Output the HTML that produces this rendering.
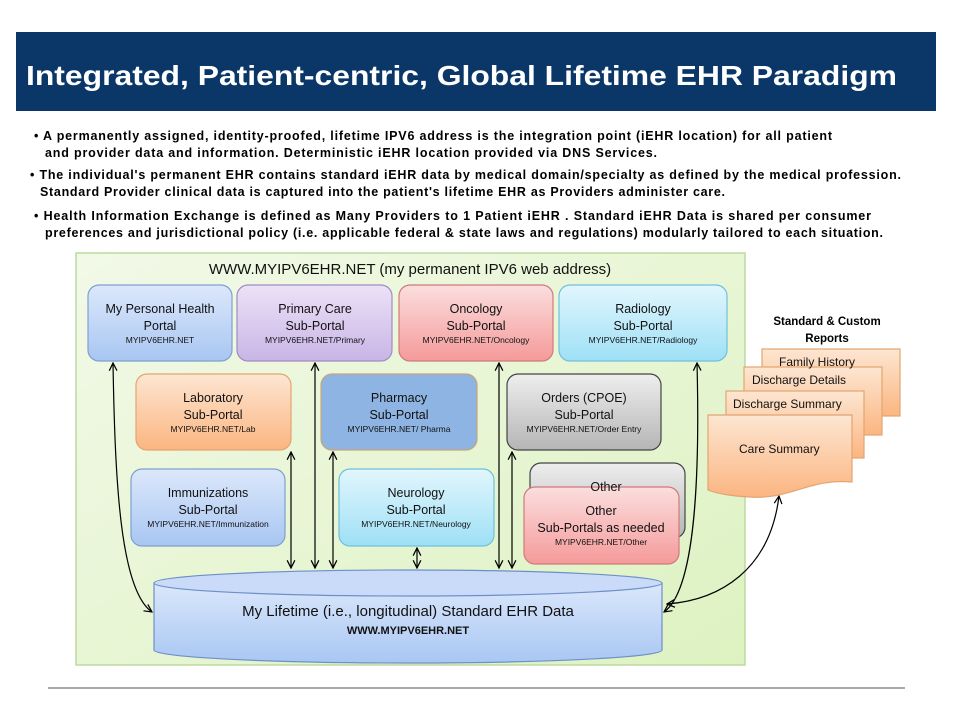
<!DOCTYPE html>
<html><head><meta charset="utf-8"><style>
body{margin:0;background:#fff;width:960px;height:720px;overflow:hidden}
text{font-family:"Liberation Sans","DejaVu Sans",sans-serif}
</style></head><body>
<svg width="960" height="720" viewBox="0 0 960 720" xmlns="http://www.w3.org/2000/svg">
<defs>
<linearGradient id="gb" x1="0" y1="0" x2="0" y2="1"><stop offset="0" stop-color="#dce8fb"/><stop offset="1" stop-color="#a8c6f2"/></linearGradient>
<linearGradient id="gp" x1="0" y1="0" x2="0" y2="1"><stop offset="0" stop-color="#ece2f7"/><stop offset="1" stop-color="#c9b5e6"/></linearGradient>
<linearGradient id="gr" x1="0" y1="0" x2="0" y2="1"><stop offset="0" stop-color="#fbdede"/><stop offset="1" stop-color="#f59a9a"/></linearGradient>
<linearGradient id="gc" x1="0" y1="0" x2="0" y2="1"><stop offset="0" stop-color="#e2f6fd"/><stop offset="1" stop-color="#9ee0f6"/></linearGradient>
<linearGradient id="go" x1="0" y1="0" x2="0" y2="1"><stop offset="0" stop-color="#fde6d2"/><stop offset="1" stop-color="#fbb580"/></linearGradient>
<linearGradient id="gg" x1="0" y1="0" x2="0" y2="1"><stop offset="0" stop-color="#eeeeee"/><stop offset="1" stop-color="#b5b5b5"/></linearGradient>
<linearGradient id="gy" x1="0" y1="0" x2="0" y2="1"><stop offset="0" stop-color="#dbe7fb"/><stop offset="1" stop-color="#a9c7f3"/></linearGradient>
<linearGradient id="gbg" x1="0" y1="0" x2="1" y2="1"><stop offset="0" stop-color="#f2f9e8"/><stop offset="1" stop-color="#ddf2c1"/></linearGradient>
<marker id="a" viewBox="0 0 10 10" refX="9" refY="5" markerWidth="8" markerHeight="8" orient="auto-start-reverse"><path d="M1,1 L9,5 L1,9" fill="none" stroke="#000" stroke-width="1.3"/></marker>
</defs>
<rect x="16" y="32" width="920" height="79" fill="#0a3768"/>
<text x="26" y="85" fill="#fff" font-size="28" font-weight="bold" textLength="871" lengthAdjust="spacingAndGlyphs">Integrated, Patient-centric, Global Lifetime EHR Paradigm</text>
<g font-size="12.5" font-weight="bold" fill="#000">
<text x="34" y="140" textLength="798" lengthAdjust="spacing">•  A permanently assigned,  identity-proofed, lifetime IPV6 address is the integration point (iEHR location)  for all patient</text>
<text x="45" y="157" textLength="612" lengthAdjust="spacing">and provider data and information.   Deterministic iEHR location provided via DNS Services.</text>
<text x="30" y="179" textLength="871" lengthAdjust="spacing">• The individual's permanent EHR contains standard iEHR data by medical domain/specialty as defined by the medical profession.</text>
<text x="40" y="196" textLength="685" lengthAdjust="spacing">Standard Provider clinical data is captured into the patient's lifetime EHR as Providers administer care.</text>
<text x="34" y="220" textLength="837" lengthAdjust="spacing">•  Health Information Exchange  is defined as Many Providers to 1 Patient iEHR .    Standard iEHR Data is  shared per consumer</text>
<text x="45" y="237" textLength="838" lengthAdjust="spacing">preferences and jurisdictional policy (i.e. applicable federal &amp; state laws and regulations) modularly tailored to each situation.</text>
</g>
<rect x="76" y="253" width="669" height="412" fill="url(#gbg)" stroke="#bcd9a0" stroke-width="1.5"/>
<text x="410" y="274" font-size="15" text-anchor="middle" fill="#111">WWW.MYIPV6EHR.NET (my permanent IPV6 web address)</text>
<g stroke-width="1.2">
<rect x="88" y="285" width="144" height="76" rx="11" fill="url(#gb)" stroke="#7f9fd0"/>
<rect x="237" y="285" width="155" height="76" rx="11" fill="url(#gp)" stroke="#9f8cc4"/>
<rect x="399" y="285" width="154" height="76" rx="11" fill="url(#gr)" stroke="#d07a7a"/>
<rect x="559" y="285" width="168" height="76" rx="11" fill="url(#gc)" stroke="#6fc0dc"/>
<rect x="136" y="374" width="155" height="76" rx="11" fill="url(#go)" stroke="#e3a570"/>
<rect x="321" y="374" width="156" height="76" rx="11" fill="#8db4e2" stroke="#c8a57a"/>
<rect x="507" y="374" width="154" height="76" rx="11" fill="url(#gg)" stroke="#444"/>
<rect x="131" y="469" width="154" height="77" rx="11" fill="url(#gb)" stroke="#7f9fd0"/>
<rect x="339" y="469" width="155" height="77" rx="11" fill="url(#gc)" stroke="#6fc0dc"/>
<rect x="530" y="463" width="155" height="75" rx="11" fill="url(#gg)" stroke="#444"/>
<rect x="524" y="487" width="155" height="77" rx="11" fill="url(#gr)" stroke="#d07a7a"/>
</g>
<g font-size="12.5" text-anchor="middle" fill="#111">
<text x="160" y="313">My Personal Health</text><text x="160" y="330">Portal</text>
<text x="315" y="313">Primary Care</text><text x="315" y="330">Sub-Portal</text>
<text x="476" y="313">Oncology</text><text x="476" y="330">Sub-Portal</text>
<text x="643" y="313">Radiology</text><text x="643" y="330">Sub-Portal</text>
<text x="213" y="402">Laboratory</text><text x="213" y="419">Sub-Portal</text>
<text x="399" y="402">Pharmacy</text><text x="399" y="419">Sub-Portal</text>
<text x="584" y="402">Orders (CPOE)</text><text x="584" y="419">Sub-Portal</text>
<text x="208" y="497">Immunizations</text><text x="208" y="514">Sub-Portal</text>
<text x="416" y="497">Neurology</text><text x="416" y="514">Sub-Portal</text>
<text x="606" y="491">Other</text>
<text x="601" y="515">Other</text><text x="601" y="532">Sub-Portals as needed</text>
</g>
<g font-size="8.5" text-anchor="middle" fill="#111">
<text x="160" y="343">MYIPV6EHR.NET</text>
<text x="315" y="343">MYIPV6EHR.NET/Primary</text>
<text x="476" y="343">MYIPV6EHR.NET/Oncology</text>
<text x="643" y="343">MYIPV6EHR.NET/Radiology</text>
<text x="213" y="432">MYIPV6EHR.NET/Lab</text>
<text x="399" y="432">MYIPV6EHR.NET/ Pharma</text>
<text x="584" y="432">MYIPV6EHR.NET/Order Entry</text>
<text x="208" y="527">MYIPV6EHR.NET/Immunization</text>
<text x="416" y="527">MYIPV6EHR.NET/Neurology</text>
<text x="601" y="545">MYIPV6EHR.NET/Other</text>
</g>
<path d="M154,583 L154,650 A254,13 0 0 0 662,650 L662,583" fill="url(#gy)" stroke="#6f8fc8" stroke-width="1.2"/>
<ellipse cx="408" cy="583" rx="254" ry="13" fill="#c9dbf8" stroke="#6f8fc8" stroke-width="1.2"/>
<text x="408" y="616" font-size="15" text-anchor="middle" fill="#111">My Lifetime (i.e., longitudinal) Standard EHR Data</text>
<text x="408" y="634" font-size="11" font-weight="bold" text-anchor="middle" fill="#111">WWW.MYIPV6EHR.NET</text>
<g stroke="#000" stroke-width="1.2" fill="none" marker-start="url(#a)" marker-end="url(#a)">
<line x1="291" y1="452" x2="291" y2="568"/>
<line x1="315" y1="363" x2="315" y2="568"/>
<line x1="333" y1="452" x2="333" y2="568"/>
<line x1="417" y1="548" x2="417" y2="568"/>
<line x1="499" y1="363" x2="499" y2="568"/>
<line x1="512" y1="452" x2="512" y2="568"/>
<path d="M113,363 C115,480 120,590 152,612"/>
<path d="M697,363 C700,480 695,590 664,612"/>
<path d="M779,496 C770,570 720,600 667,604"/>
</g>
<text x="827" y="325" font-size="11.5" font-weight="bold" text-anchor="middle">Standard &amp; Custom</text>
<text x="827" y="342" font-size="11.5" font-weight="bold" text-anchor="middle">Reports</text>
<g stroke="#e3a570" stroke-width="1.2">
<rect x="762" y="349" width="138" height="67" fill="url(#go)"/>
<rect x="744" y="367" width="138" height="68" fill="url(#go)"/>
<rect x="726" y="391" width="138" height="67" fill="url(#go)"/>
<path d="M708,415 L852,415 L852,482 C810,478 790,500 750,497 C730,496 715,493 708,490 Z" fill="url(#go)"/>
</g>
<g font-size="12" fill="#111">
<text x="779" y="366">Family History</text>
<text x="752" y="384">Discharge Details</text>
<text x="733" y="408">Discharge Summary</text>
<text x="739" y="453">Care Summary</text>
</g>
<line x1="48" y1="688" x2="905" y2="688" stroke="#555" stroke-width="1"/>
</svg>
</body></html>
